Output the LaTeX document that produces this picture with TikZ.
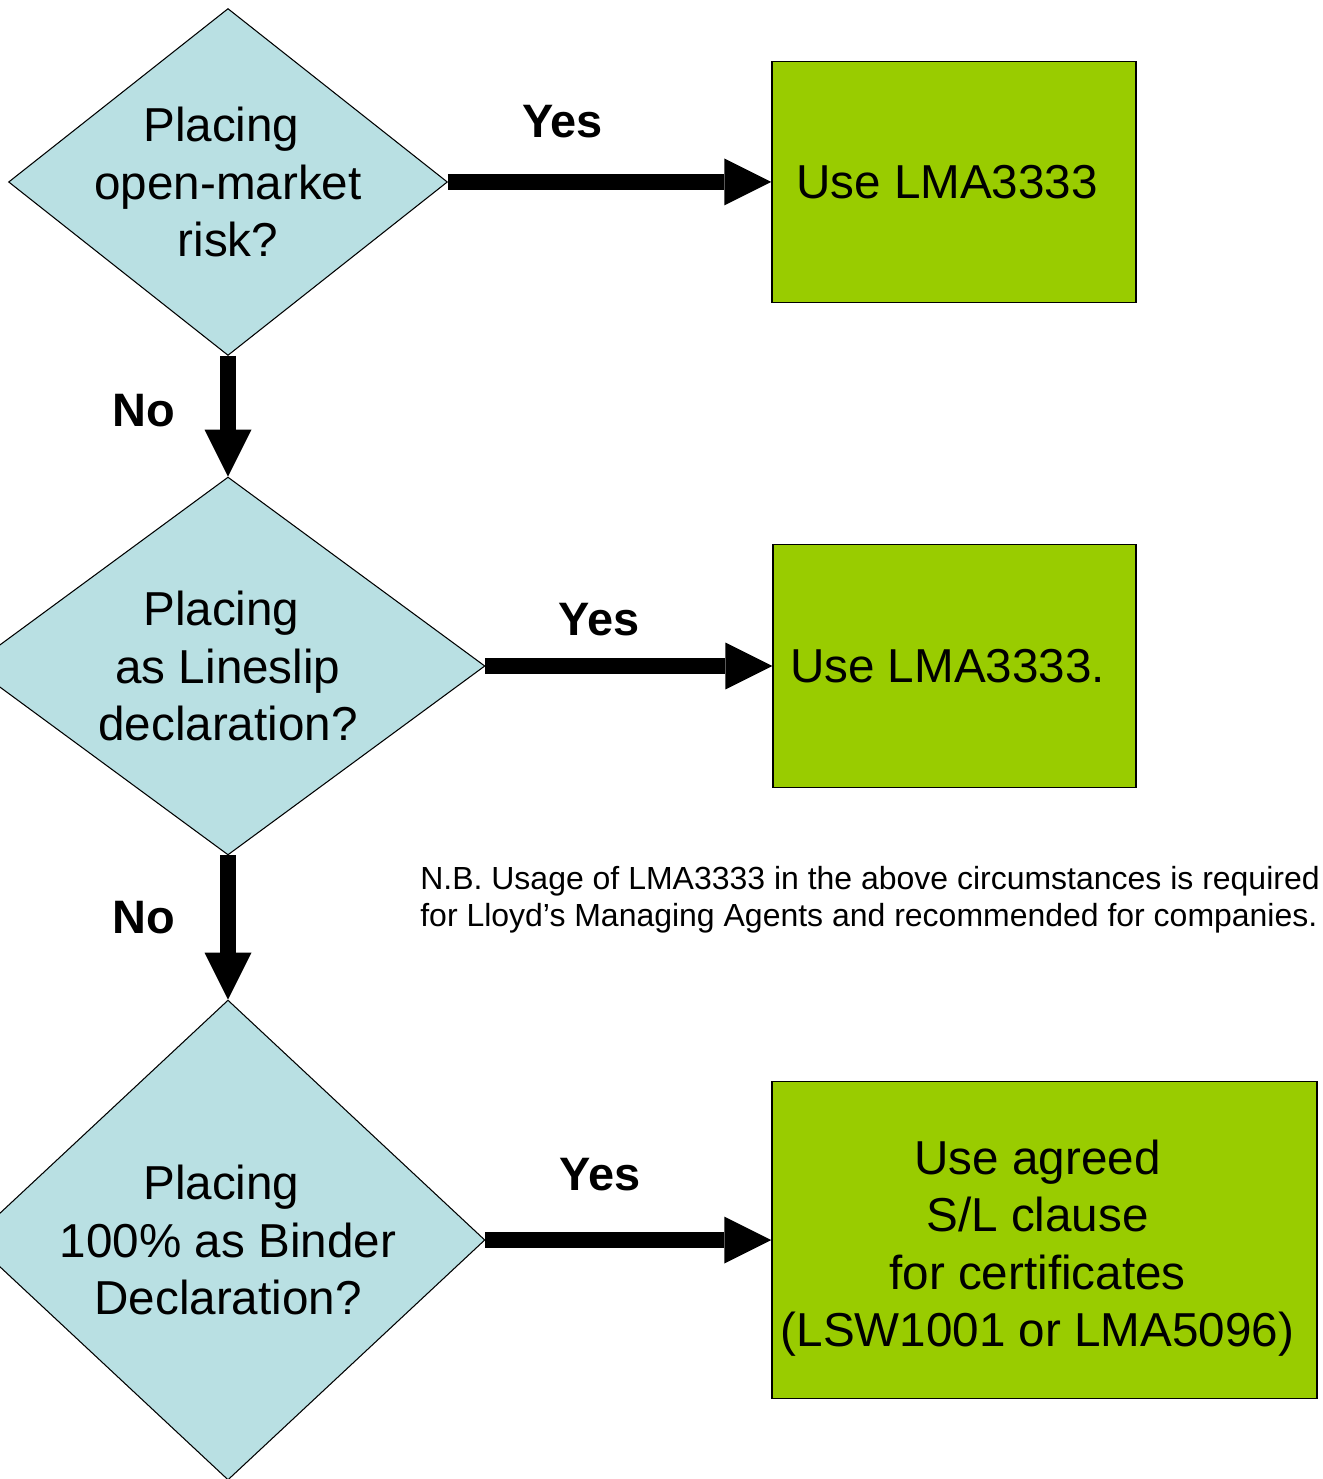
\documentclass[tikz,border=0pt]{standalone}
\usepackage{fontspec}
\setmainfont{Liberation Sans}
\usetikzlibrary{shapes.geometric,arrows.meta}
\definecolor{askblue}{RGB}{185,224,227}
\definecolor{usegreen}{RGB}{153,204,0}
\tikzset{
  decision/.style={diamond, draw=black, line width=0.6pt, fill=askblue, inner sep=0pt},
  asktext/.style={align=center, inner sep=0pt, font=\fontsize{27.1}{32.7}\selectfont},
  action/.style={rectangle, draw=black, line width=0.9pt, fill=usegreen, inner sep=0pt},
  usetext/.style={align=center, inner sep=0pt, xshift=-0.14cm, font=\fontsize{27.1}{32.7}\selectfont},
  answer/.style={anchor=base, inner sep=0pt, font=\fontsize{26.7}{32.7}\selectfont\bfseries},
  flow/.style={line width=0.32cm, -{Triangle[length=0.94cm,width=0.94cm,line width=0pt]}},
  remark/.style={anchor=north west, inner sep=0pt, align=left, font=\fontsize{18.2}{21.6}\selectfont}
}
\begin{document}
\begin{tikzpicture}[x=0.02cm, y=-0.02cm]
  \useasboundingbox (0,0) rectangle (1322,1479);
  % questions
  \node[decision, minimum width=8.78cm, minimum height=6.94cm] (q1) at (228,182) {};
  \node[asktext] (q1text) at (q1.center) {Placing\hspace*{0.28em}\\open-market\\risk?};
  \node[decision, minimum width=10.28cm, minimum height=7.56cm] (q2) at (228,666) {};
  \node[asktext] (q2text) at (q2.center) {Placing\hspace*{0.28em}\\as Lineslip\\declaration?};
  \node[decision, minimum width=10.28cm, minimum height=9.6cm] (q3) at (228,1240) {};
  \node[asktext] (q3text) at (q3.center) {Placing\hspace*{0.28em}\\100\% as Binder\\Declaration?};
  % outcomes
  \node[action, minimum width=7.28cm, minimum height=4.82cm] (a1) at (954,182) {};
  \node[usetext] (a1text) at (a1.center) {Use LMA3333};
  \node[action, minimum width=7.26cm, minimum height=4.86cm] (a2) at (954.5,666) {};
  \node[usetext] (a2text) at (a2.center) {Use LMA3333.};
  \node[action, minimum width=10.9cm, minimum height=6.34cm] (a3) at (1044.5,1240) {};
  \node[usetext, yshift=-0.16cm] (a3text) at (a3.center)
    {Use agreed\\S/L clause\\for certificates\\(LSW1001 or LMA5096)};
  % arrows
  \draw[flow] (q1.east) -- (a1.west);
  \draw[flow] (q2.east) -- (a2.west);
  \draw[flow] (q3.east) -- (a3.west);
  \draw[flow] (q1.south) -- (q2.north);
  \draw[flow] (q2.south) -- (q3.north);
  % answers
  \node[answer] (yes1) at (562.5,138) {Yes};
  \node[answer] (yes2) at (599,635) {Yes};
  \node[answer] (yes3) at (600,1190) {Yes};
  \node[answer] (no1) at (143.5,427) {No};
  \node[answer] (no2) at (143.5,933) {No};
  % note
  \node[remark] (nb) at (420,865.5)
    {N.B. Usage of LMA3333 in the above circumstances is required\\
     for Lloyd’s Managing Agents and recommended for companies.};
\end{tikzpicture}
\end{document}
